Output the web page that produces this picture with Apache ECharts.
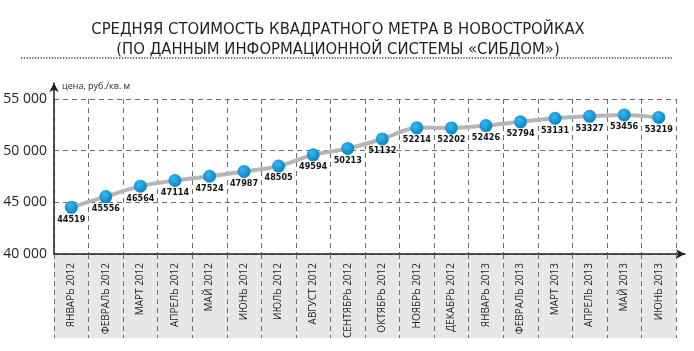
<!DOCTYPE html>
<html>
<head>
<meta charset="utf-8">
<script src="https://cdn.jsdelivr.net/npm/echarts@6/dist/echarts.min.js"></script>
<style>
  html, body { margin: 0; padding: 0; background: #fff; }
  #chart { width: 694px; height: 351px; }
</style>
</head>
<body>
<div id="chart"></div>
<script>
const months = [
  "ЯНВАРЬ 2012", "ФЕВРАЛЬ 2012", "МАРТ 2012", "АПРЕЛЬ 2012", "МАЙ 2012",
  "ИЮНЬ 2012", "ИЮЛЬ 2012", "АВГУСТ 2012", "СЕНТЯБРЬ 2012", "ОКТЯБРЬ 2012",
  "НОЯБРЬ 2012", "ДЕКАБРЬ 2012", "ЯНВАРЬ 2013", "ФЕВРАЛЬ 2013", "МАРТ 2013",
  "АПРЕЛЬ 2013", "МАЙ 2013", "ИЮНЬ 2013"
];
const prices = [
  44519, 45556, 46564, 47114, 47524, 47987, 48505, 49594, 50213,
  51132, 52214, 52202, 52426, 52794, 53131, 53327, 53456, 53219
];
const yMin = 40000;
const yMax = 55000;
const yStep = 5000;

const chart = echarts.init(document.getElementById("chart"));

const dash = { color: "#6d6e71", type: [5, 4], width: 1 };

const option = {
  animation: false,
  title: {
    text: "СРЕДНЯЯ СТОИМОСТЬ КВАДРАТНОГО МЕТРА В НОВОСТРОЙКАХ\n(ПО ДАННЫМ ИНФОРМАЦИОННОЙ СИСТЕМЫ «СИБДОМ»)",
    left: 333,
    textAlign: "center",
    top: 15,
    textStyle: {
      fontFamily: "'DejaVu Sans Condensed', 'DejaVu Sans'",
      fontSize: 16.5,
      fontWeight: "normal",
      lineHeight: 20,
      color: "#231f20",
    },
  },
  graphic: [
    {
      type: "line",
      shape: { x1: 21, y1: 58, x2: 673, y2: 58 },
      style: { stroke: "#3a3a3a", lineWidth: 1.5, lineDash: [1.2, 1.6] },
    },
    {
      type: "rect",
      z: -1,
      shape: { x: 54, y: 254, width: 622, height: 84 },
      style: { fill: "#e6e7e8" },
    },
  ],
  grid: [
    { left: 54, right: 18, top: 99, bottom: 97 },
    { left: 54, right: 9, top: 83, bottom: 97 },
  ],
  xAxis: [
    {
      type: "category",
      gridIndex: 0,
      boundaryGap: true,
      data: months,
      axisLine: { show: false },
      axisTick: { show: true, interval: 0, length: 84, lineStyle: dash },
      splitLine: { show: true, interval: 0, lineStyle: dash },
      axisLabel: {
        interval: 0,
        rotate: 90,
        margin: 9,
        fontFamily: "Open Sans",
        fontSize: 10,
        color: "#231f20",
      },
    },
    {
      type: "value",
      gridIndex: 1,
      min: 0,
      max: 1,
      axisLine: {
        show: true,
        symbol: ["none", "arrow"],
        symbolSize: [7, 9],
        lineStyle: { color: "#231f20", width: 1.5 },
      },
      axisTick: { show: false },
      axisLabel: { show: false },
      splitLine: { show: false },
    },
  ],
  yAxis: [
    {
      type: "value",
      gridIndex: 0,
      min: yMin,
      max: yMax,
      interval: yStep,
      axisLine: { show: false },
      axisTick: { show: false },
      splitLine: { show: true, lineStyle: dash },
      axisLabel: {
        margin: 7,
        fontFamily: "Open Sans",
        fontSize: 14,
        color: "#231f20",
        formatter: (v) => String(v).replace(/\B(?=(\d{3})+(?!\d))/g, " "),
      },
    },
    {
      type: "value",
      gridIndex: 1,
      min: 0,
      max: 1,
      name: "цена, руб./кв. м",
      nameLocation: "end",
      nameGap: -3,
      nameTextStyle: {
        align: "left",
        verticalAlign: "middle",
        padding: [0, 0, 0, 8],
        fontFamily: "Open Sans",
        fontSize: 9,
        color: "#231f20",
      },
      axisLine: {
        show: true,
        symbol: ["none", "arrow"],
        symbolSize: [7, 9],
        lineStyle: { color: "#231f20", width: 1.5 },
      },
      axisTick: { show: false },
      axisLabel: { show: false },
      splitLine: { show: false },
    },
  ],
  series: [
    {
      type: "line",
      xAxisIndex: 0,
      yAxisIndex: 0,
      data: prices,
      smooth: 0.3,
      symbol: "circle",
      symbolSize: 13,
      z: 3,
      lineStyle: { color: "#b5b5b5", width: 4 },
      itemStyle: {
        color: {
          type: "radial",
          x: 0.4,
          y: 0.35,
          r: 0.7,
          colorStops: [
            { offset: 0, color: "#35b8ee" },
            { offset: 1, color: "#0681c3" },
          ],
        },
      },
      label: {
        show: true,
        position: "bottom",
        distance: 1,
        fontFamily: "'Liberation Sans Narrow', 'DejaVu Sans Condensed', sans-serif",
        fontWeight: "bold",
        fontSize: 9,
        color: "#111",
      },
    },
  ],
};

chart.setOption(option);
</script>
</body>
</html>
